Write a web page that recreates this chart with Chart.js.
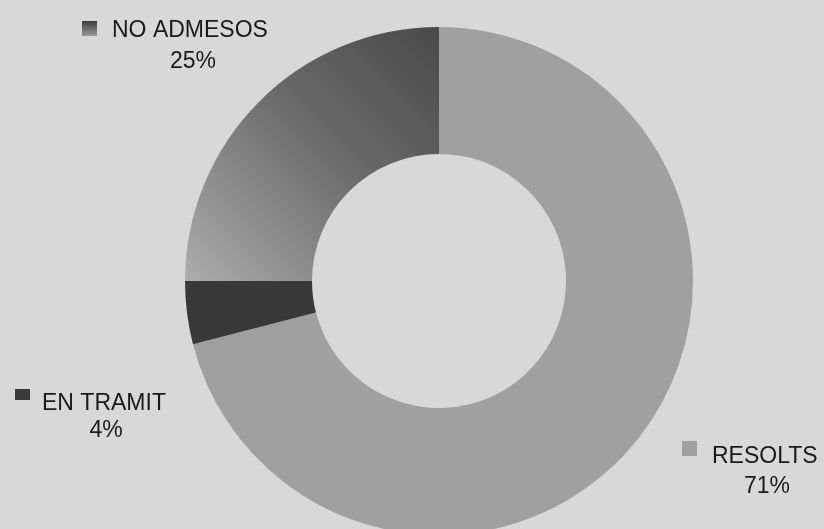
<!DOCTYPE html>
<html>
<head>
<meta charset="utf-8">
<script src="https://cdn.jsdelivr.net/npm/chart.js@4/dist/chart.umd.min.js"></script>
<style>
  html, body { margin: 0; padding: 0; overflow: hidden; background: #d8d8d8; }
  #wrap { position: relative; width: 824px; height: 560px; }
</style>
</head>
<body>
<div id="wrap"><canvas id="pie"></canvas></div>
<script>
// data
const categories = ["RESOLTS", "EN TRAMIT", "NO ADMESOS"];
const percents = [71, 4, 25];

// where each label block sits (name left edge / baseline, percent centre / baseline, marker box)
const labelSpots = [
    { mark: [682, 441, 15, 15], name: [712, 463], pct: [767, 493] },
    { mark: [15, 389, 15, 11], name: [42, 410], pct: [106, 437] },
    { mark: [82, 21, 15, 15], name: [112, 37], pct: [193, 68] }
];

const flatColors = ["#a0a0a0", "#383838", "#7a7a7a"];

// NO ADMESOS is darker toward the top of the slice, lighter toward the left
function sliceFill(context) {
    const i = context.dataIndex;
    const chart = context.chart;
    const area = chart.chartArea;
    if (i !== 2 || !area) return flatColors[i];
    const cx = (area.left + area.right) / 2;
    const r = (area.bottom - area.top) / 2;
    const g = chart.ctx.createLinearGradient(cx, area.top, cx - r, area.top + r);
    g.addColorStop(0, "#4a4a4a");
    g.addColorStop(0.45, "#6a6a6a");
    g.addColorStop(1, "#adadad");
    return g;
}

const labelPlugin = {
    id: "scanLabels",
    afterDraw(chart) {
        const ctx = chart.ctx;
        ctx.save();
        ctx.font = "23px 'Liberation Sans', Arial, sans-serif";
        categories.forEach((name, i) => {
            const s = labelSpots[i];
            const [mx, my, mw, mh] = s.mark;
            if (i === 2) {
                const g = ctx.createLinearGradient(0, my, 0, my + mh);
                g.addColorStop(0, "#3c3c3c");
                g.addColorStop(1, "#9a9a9a");
                ctx.fillStyle = g;
            } else {
                ctx.fillStyle = i === 1 ? "#3a3a3a" : "#a0a0a0";
            }
            ctx.fillRect(mx, my, mw, mh);
            ctx.fillStyle = "#1a1a1a";
            ctx.textAlign = "left";
            ctx.fillText(name, s.name[0], s.name[1]);
            ctx.textAlign = "center";
            ctx.fillText(percents[i] + "%", s.pct[0], s.pct[1]);
        });
        ctx.restore();
    }
};

new Chart(document.getElementById("pie"), {
    type: "doughnut",
    data: {
        labels: categories,
        datasets: [{
            data: percents,
            backgroundColor: sliceFill,
            borderWidth: 0
        }]
    },
    options: {
        responsive: true,
        maintainAspectRatio: false,
        animation: false,
        cutout: "50%",
        layout: { padding: { top: 27, left: 54, right: 0, bottom: 25 } },
        plugins: {
            legend: { display: false },
            tooltip: { enabled: false }
        }
    },
    plugins: [labelPlugin]
});
</script>
</body>
</html>
